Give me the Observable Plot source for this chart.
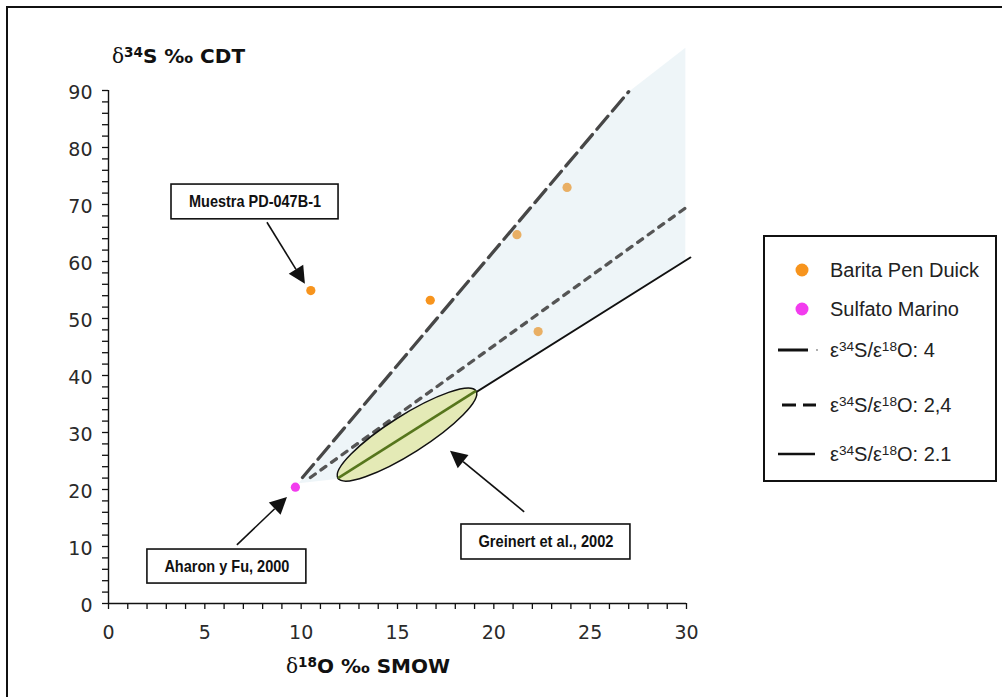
<!DOCTYPE html>
<html>
<head>
<meta charset="utf-8">
<script src="https://cdn.jsdelivr.net/npm/d3@7"></script>
<script src="https://cdn.jsdelivr.net/npm/@observablehq/plot@0.6"></script>
<style>
  html, body { margin: 0; padding: 0; background: #fff; }
  #wrap { position: relative; width: 1002px; height: 697px; overflow: hidden; background: #fff; }
  #frame { position: absolute; left: 6px; top: 6px; width: 1100px; height: 800px; border: 2px solid #111; box-sizing: border-box; }
  #chart { position: absolute; left: 0; top: 0; }
  .atitle { position: absolute; font-family: "DejaVu Sans", Verdana, sans-serif; font-weight: bold; font-size: 20px; color: #111; white-space: nowrap; line-height: 1; }
  .atitle .g { font-family: "DejaVu Serif", serif; font-weight: normal; }
  .atitle sup { font-size: 0.68em; vertical-align: 0.45em; line-height: 0; }
  #legend { position: absolute; left: 763px; top: 235px; width: 234px; height: 247px; border: 2px solid #111; box-sizing: border-box; background: #fff; }
  .li { position: absolute; left: 0; font-family: "Liberation Sans", Arial, sans-serif; font-size: 20px; color: #222; white-space: nowrap; line-height: 1; }
  .li span.t { position: absolute; left: 65px; top: -10px; }
  .li sup { font-size: 0.68em; vertical-align: 0.45em; line-height: 0; }
  .li svg { position: absolute; left: 0; top: -12px; }
</style>
</head>
<body>
<div id="wrap">
  <div id="frame"></div>
  <div id="chart"></div>
  <div class="atitle" style="left:112px; top:46px;"><span class="g">δ</span><sup>34</sup>S ‰ CDT</div>
  <div class="atitle" style="left:286px; top:656px;"><span class="g">δ</span><sup>18</sup>O ‰ SMOW</div>
  <div id="legend"></div>
</div>
<script>
// ---- data ----
const xTicks = [0, 5, 10, 15, 20, 25, 30];
const yTicks = [0, 10, 20, 30, 40, 50, 60, 70, 80, 90];
const xMinor = d3.range(0, 31, 1);
const yMinor = d3.range(0, 91, 2);

// Barita Pen Duick (δ18O, δ34S)
const baritaO = [10.5, 16.7, 21.2, 23.8, 22.3];
const baritaS = [54.9, 53.2, 64.7, 73.0, 47.7];
// Sulfato Marino
const sulfatoO = [9.7];
const sulfatoS = [20.4];

// reference lines ε34S/ε18O
const line4O = [10.07, 27.0];
const line4S = [22.1, 89.8];
const line24O = [10.48, 30.2];
const line24S = [22.1, 70.0];
const line21O = [11.94, 30.2];
const line21S = [21.9, 60.7];

// shaded field
const wedgeO = [9.86, 27.0, 29.94, 29.94, 11.94];
const wedgeS = [21.1, 89.8, 97.5, 60.3, 21.9];

// Greinert et al., 2002 field (ends of the long axis)
const greinertO = [11.94, 19.1];
const greinertS = [21.9, 37.2];

// annotations
const annText = ["Muestra PD-047B-1", "Aharon y Fu, 2000", "Greinert et al., 2002"];
const annX1 = [3.27, 2.02, 18.32];
const annX2 = [11.94, 10.27, 27.09];
const annY1 = [67.4, 3.5, 7.72];
const annY2 = [73.5, 9.47, 13.86];
const arrFromO = [8.25, 6.69, 21.6];
const arrFromS = [66.8, 10.2, 16.0];
const arrToO = [10.22, 9.29, 17.75];
const arrToS = [56.0, 18.6, 26.7];

// ---- tables ----
const barita = baritaO.map((o, i) => ({o, s: baritaS[i]}));
const sulfato = sulfatoO.map((o, i) => ({o, s: sulfatoS[i]}));
const pts = (O, S) => O.map((o, i) => ({o, s: S[i]}));
const ann = annText.map((t, i) => ({t, x1: annX1[i], x2: annX2[i], y1: annY1[i], y2: annY2[i]}));
const arrows = arrFromO.map((o, i) => ({x1: o, y1: arrFromS[i], x2: arrToO[i], y2: arrToS[i]}));

const ORANGE = "#F7941D";
const MAGENTA = "#F23CEE";
const TICKFONT = "DejaVu Sans, Verdana, sans-serif";
const BOXFONT = "Liberation Sans, Arial, sans-serif";

function ellipseMark(index, scales) {
  const sx = scales.x, sy = scales.y;
  const ax = sx(greinertO[0]), ay = sy(greinertS[0]);
  const bx = sx(greinertO[1]), by = sy(greinertS[1]);
  const cx = (ax + bx) / 2, cy = (ay + by) / 2;
  const rx = Math.hypot(bx - ax, by - ay) / 2;
  const ang = Math.atan2(by - ay, bx - ax) * 180 / Math.PI;
  const g = d3.create("svg:g");
  g.append("ellipse").attr("cx", cx).attr("cy", cy).attr("rx", rx).attr("ry", 19)
    .attr("transform", `rotate(${ang} ${cx} ${cy})`)
    .attr("fill", "#E4EAB6").attr("stroke", "#111").attr("stroke-width", 1.5);
  g.append("line").attr("x1", ax).attr("y1", ay).attr("x2", bx).attr("y2", by)
    .attr("stroke", "#56761C").attr("stroke-width", 2.6);
  return g.node();
}

function arrowMark(index, scales) {
  const sx = scales.x, sy = scales.y;
  const g = d3.create("svg:g");
  for (const a of arrows) {
    const x1 = sx(a.x1), y1 = sy(a.y1), x2 = sx(a.x2), y2 = sy(a.y2);
    const L = Math.hypot(x2 - x1, y2 - y1);
    const ux = (x2 - x1) / L, uy = (y2 - y1) / L;
    const hl = 17, hw = 8.5;
    const bx = x2 - ux * hl, by = y2 - uy * hl;
    g.append("line").attr("x1", x1).attr("y1", y1).attr("x2", bx).attr("y2", by)
      .attr("stroke", "#111").attr("stroke-width", 1.6);
    g.append("path")
      .attr("d", `M${x2},${y2}L${bx - uy * hw},${by + ux * hw}L${bx + uy * hw},${by - ux * hw}Z`)
      .attr("fill", "#111");
  }
  return g.node();
}

const chart = Plot.plot({
  width: 1002,
  height: 697,
  marginLeft: 108,
  marginRight: 316,
  marginTop: 90,
  marginBottom: 94,
  x: {domain: [0, 30], axis: null},
  y: {domain: [0, 90], axis: null},
  style: {background: "transparent", overflow: "visible"},
  marks: [
    Plot.dot(barita, {x: "o", y: "s", r: 4.6, fill: ORANGE, stroke: "none"}),
    Plot.line(pts(wedgeO, wedgeS), {x: "o", y: "s", curve: "linear-closed", fill: "#CFE3EA", fillOpacity: 0.35, stroke: "none"}),
    Plot.line(pts(line4O, line4S), {x: "o", y: "s", stroke: "#474747", strokeWidth: 3.3, strokeDasharray: "17,7"}),
    Plot.line(pts(line24O, line24S), {x: "o", y: "s", stroke: "#555", strokeWidth: 3.3, strokeDasharray: "6,7", strokeLinecap: "round"}),
    Plot.line(pts(line21O, line21S), {x: "o", y: "s", stroke: "#111", strokeWidth: 2}),
    ellipseMark,
    Plot.dot(sulfato, {x: "o", y: "s", r: 4.6, fill: MAGENTA, stroke: "none"}),
    Plot.ruleY([0], {x1: 0, x2: 30, stroke: "#111", strokeWidth: 1.4}),
    Plot.ruleX([0], {y1: 0, y2: 90, stroke: "#111", strokeWidth: 1.4}),
    Plot.axisX({ticks: xMinor, tickSize: 6, tickFormat: () => "", stroke: "#111", strokeWidth: 1.3, label: null}),
    Plot.axisY({ticks: yMinor, tickSize: 6, tickFormat: () => "", stroke: "#111", strokeWidth: 1.3, label: null}),
    Plot.text(xTicks, {x: d => d, y: 0, dy: 29, text: d => String(d), textAnchor: "middle", lineAnchor: "middle", fontSize: 19, fontFamily: TICKFONT, fill: "#2a2a2a"}),
    Plot.text(yTicks, {x: 0, y: d => d, dx: -16, dy: 2, text: d => String(d), textAnchor: "end", lineAnchor: "middle", fontSize: 19, fontFamily: TICKFONT, fill: "#2a2a2a"}),
    Plot.rect(ann, {x1: "x1", x2: "x2", y1: "y1", y2: "y2", fill: "white", stroke: "#111", strokeWidth: 1.6}),
    Plot.text(ann, {x: d => (d.x1 + d.x2) / 2, y: d => (d.y1 + d.y2) / 2, text: "t", fontSize: 17, fontWeight: "bold", fontFamily: BOXFONT, fill: "#111", lineAnchor: "middle", className: "boxlabel"}),
    arrowMark
  ]
});
document.getElementById("chart").appendChild(chart);

// condense annotation labels to the narrow bold look of the original
const narrowWidths = {"Muestra PD-047B-1": 132, "Aharon y Fu, 2000": 125, "Greinert et al., 2002": 135};
chart.querySelectorAll(".boxlabel text").forEach(t => {
  const w = narrowWidths[t.textContent];
  if (w) { t.setAttribute("textLength", w); t.setAttribute("lengthAdjust", "spacingAndGlyphs"); }
});

// ---- legend ----
const legendItems = [
  {y: 33, html: "Barita Pen Duick", sym: `<circle cx="37" cy="12" r="6.5" fill="${ORANGE}"/>`},
  {y: 72, html: "Sulfato Marino", sym: `<circle cx="37" cy="12" r="6.5" fill="${MAGENTA}"/>`},
  {y: 113, html: "ε<sup>34</sup>S/ε<sup>18</sup>O: 4", sym: `<line x1="13" y1="12" x2="43" y2="12" stroke="#111" stroke-width="3"/><circle cx="52" cy="12" r="0.9" fill="#888"/>`},
  {y: 168, html: "ε<sup>34</sup>S/ε<sup>18</sup>O: 2,4", sym: `<line x1="17" y1="12" x2="31" y2="12" stroke="#111" stroke-width="3"/><line x1="38" y1="12" x2="51" y2="12" stroke="#111" stroke-width="3"/>`},
  {y: 217, html: "ε<sup>34</sup>S/ε<sup>18</sup>O: 2.1", sym: `<line x1="13" y1="12" x2="50" y2="12" stroke="#111" stroke-width="2.4"/>`}
];
const leg = document.getElementById("legend");
for (const it of legendItems) {
  const d = document.createElement("div");
  d.className = "li";
  d.style.top = it.y + "px";
  d.innerHTML = `<svg width="60" height="24">${it.sym}</svg><span class="t">${it.html}</span>`;
  leg.appendChild(d);
}
</script>
</body>
</html>
